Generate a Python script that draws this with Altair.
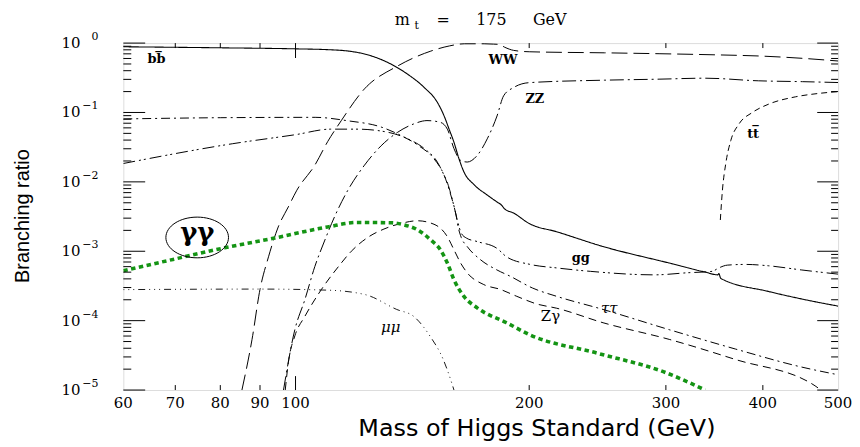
import altair as alt
import pandas as pd

# ---------------- data ----------------
bb_mass = [60, 80, 100, 110, 117, 123, 131.5, 139.5, 146.5, 152.3, 155.4, 157.7, 160, 162.4, 164.8,
           169.8, 176.6, 181.8, 184, 186, 191, 200, 217, 249, 303, 337, 350, 351, 353, 407, 450, 500]
bb_br = [0.885, 0.855, 0.826, 0.804, 0.767, 0.692, 0.525, 0.355, 0.229, 0.140, 0.0891, 0.0575, 0.0372,
         0.0215, 0.0139, 0.00912, 0.00646, 0.00513, 0.00468, 0.00407, 0.00355, 0.00251, 0.00191, 0.00117,
         0.000676, 0.000501, 0.000457, 0.000479, 0.000407, 0.000263, 0.000204, 0.000162]

ww_mass = [85.3, 87.9, 90, 92.3, 95, 97.9, 100.4, 105.9, 110, 114.5, 122.7, 135.4, 149.4, 158, 165,
           175, 180, 183, 186, 191, 200, 250, 294, 350, 395, 450, 500]
ww_br = [1.0e-5, 5.37e-5, 2.82e-4, 8.32e-4, 2.24e-3, 4.37e-3, 7.59e-3, 0.0174, 0.038, 0.0759, 0.219,
         0.468, 0.767, 0.912, 0.977, 0.977, 0.966, 0.955, 0.871, 0.785, 0.750, 0.724, 0.703, 0.676,
         0.652, 0.603, 0.552]

zz_mass = [96.5, 99.8, 102.8, 105.9, 109.1, 112.3, 116.8, 122.7, 128.9, 135.4, 142, 147.7, 153.5, 156.9,
           160, 163.2, 166.4, 171.4, 176.6, 181.8, 185.4, 191, 200, 250, 294, 337, 395, 450, 500]
zz_br = [1e-5, 7.41e-5, 2.0e-4, 6.03e-4, 1.45e-3, 3.16e-3, 7.59e-3, 0.0174, 0.0331, 0.0519, 0.0684,
         0.0764, 0.0724, 0.0575, 0.0302, 0.0204, 0.0193, 0.024, 0.0417, 0.0891, 0.174, 0.229, 0.269,
         0.292, 0.302, 0.312, 0.286, 0.278, 0.270]

tt_mass = [352.6, 354.8, 358.3, 363.7, 372.7, 387.7, 407, 440.5, 471.8, 500]
tt_br = [2.82e-3, 7.59e-3, 0.0183, 0.0394, 0.0684, 0.100, 0.132, 0.168, 0.188, 0.200]

gg_mass = [60, 83, 100, 111, 120, 131.5, 139.5, 146.5, 152.3, 155, 157, 160, 162, 163.5, 166, 171.4,
           181.8, 187, 200.6, 217, 240, 290, 320, 344, 351, 360, 380, 407, 449, 500]
gg_br = [0.0184, 0.0355, 0.0479, 0.0575, 0.0575, 0.0519, 0.0417, 0.0302, 0.0193, 0.0132, 0.00955,
         0.00447, 0.00251, 0.00182, 0.00155, 0.00138, 0.0011, 0.000832, 0.000646, 0.000575, 0.000513,
         0.000457, 0.00049, 0.000513, 0.000575, 0.000631, 0.000646, 0.000617, 0.000537, 0.000468]

tau_mass = [60, 80, 106, 116.8, 128.9, 136.6, 144, 150.8, 155.4, 158.5, 161, 162, 163.5, 166.4, 173,
            181.8, 189, 202, 217, 249, 303, 369, 449, 500]
tau_br = [0.0807, 0.0841, 0.0851, 0.0759, 0.0617, 0.0468, 0.0334, 0.0215, 0.01245, 0.00646, 0.00331,
          0.00224, 0.00158, 0.00117, 0.000759, 0.000537, 0.000437, 0.000295, 0.000224, 0.000145,
          7.41e-5, 3.89e-5, 2.14e-5, 1.66e-5]

zg_mass = [97, 97.9, 99.8, 102.8, 108, 113.6, 118, 124.3, 130, 136.6, 143.6, 150.8, 156.9, 160, 163.2,
           166.4, 174.8, 183.6, 192.8, 204.5, 217, 249, 303, 369, 467, 475]
zg_br = [1e-5, 2.51e-5, 6.03e-5, 1.15e-4, 2.82e-4, 6.03e-4, 1e-3, 1.62e-3, 2.09e-3, 2.51e-3, 2.75e-3,
         2.45e-3, 1.62e-3, 1.05e-3, 6.76e-4, 4.90e-4, 3.31e-4, 2.82e-4, 2.24e-4, 1.74e-4, 1.51e-4,
         9.33e-5, 5.37e-5, 2.75e-5, 1.15e-5, 1e-5]

gam_mass = [60, 70, 81, 94, 110, 120, 133, 138, 143.6, 149.4, 153.7, 156.9, 160, 164.8, 171.4, 187,
            200, 245, 300, 337]
gam_br = [5.25e-4, 7.76e-4, 1.12e-3, 1.55e-3, 2.24e-3, 2.6e-3, 2.57e-3, 2.4e-3, 2.04e-3, 1.45e-3,
          1.05e-3, 6.76e-4, 3.89e-4, 2.24e-4, 1.53e-4, 9.33e-5, 6.31e-5, 3.39e-5, 1.78e-5, 1e-5]

mu_mass = [60, 90, 110, 123, 135, 142, 149, 155, 159, 160]
mu_br = [2.8e-4, 2.85e-4, 2.75e-4, 2.37e-4, 1.45e-4, 1.15e-4, 6.0e-5, 2.75e-5, 1.25e-5, 1.0e-5]

# axis ticks / labels
x_tick_values = [60, 70, 80, 90, 100, 200, 300, 400, 500]
x_tick_text = ["60", "70", "80", "90", "100", "200", "300", "400", "500"]
x_short_ticks = [70, 80, 90, 200, 300, 400]
x_long_ticks = [100]
y_decades = [1, 0.1, 0.01, 0.001, 1e-4, 1e-5]
y_exponents = ["0", "\u22121", "\u22122", "\u22123", "\u22124", "\u22125"]
y_minor = [m * d for d in [0.1, 0.01, 0.001, 1e-4, 1e-5] for m in range(2, 10)]

# curve labels (text, mass, BR at label baseline)
bold_text = ["bb\u0305", "WW", "ZZ", "tt\u0305", "gg"]
bold_mass = [66.2, 185.1, 203.4, 388.6, 233]
bold_br = [0.512, 0.50, 0.138, 0.0435, 6.98e-4]
ital_text = ["\u03c4\u03c4", "\u03bc\u03bc"]
ital_mass = [253.7, 132.6]
ital_br = [1.31e-4, 6.78e-5]
plain_text = ["Z\u03b3"]
plain_mass = [213]
plain_br = [9.84e-5]
gg_label_mass = [74.7]
gg_label_br = [1.41e-3]
ellipse_mass = [74.7]
ellipse_br = [1.58e-3]

# ---------------- build ----------------
xs = alt.Scale(type="log", domain=[60, 500], nice=False)
ys = alt.Scale(type="log", domain=[1e-5, 1], nice=False)

W, H = 719, 349
SERIF = "DejaVu Serif"


def curve(ms, bs, dash, color="black", width=1.0):
    df = pd.DataFrame({"mass": ms, "br": bs, "idx": list(range(len(ms)))})
    return alt.Chart(df).mark_line(clip=True, interpolate="monotone", color=color,
                                   strokeDash=dash, strokeWidth=width).encode(
        x=alt.X("mass:Q", scale=xs, axis=None),
        y=alt.Y("br:Q", scale=ys, axis=None),
        order="idx:Q")


curves = [
    curve(bb_mass, bb_br, [1, 0], width=1.1),
    curve(ww_mass, ww_br, [16, 6]),
    curve(zz_mass, zz_br, [14, 4, 2, 4]),
    curve(tt_mass, tt_br, [6, 4]),
    curve(gg_mass, gg_br, [12, 4, 2, 3, 2, 4]),
    curve(tau_mass, tau_br, [9, 4, 2, 4]),
    curve(zg_mass, zg_br, [8, 5]),
    curve(mu_mass, mu_br, [1, 4, 1, 4, 1, 4, 7, 4], width=0.9),
    curve(gam_mass, gam_br, [4.5, 3.5], color="#149414", width=3.6),
]

major_df = pd.DataFrame({"v": y_decades, "e": y_exponents})
minor_df = pd.DataFrame({"v": y_minor})
xshort_df = pd.DataFrame({"v": x_short_ticks})
xlong_df = pd.DataFrame({"v": x_long_ticks})
xlab_df = pd.DataFrame({"v": x_tick_values, "t": x_tick_text})


def yrule(df, x1, x2):
    return alt.Chart(df).mark_rule(color="black", strokeWidth=1).encode(
        y=alt.Y("v:Q", scale=ys, axis=None), x=alt.value(x1), x2=alt.value(x2))


def xrule(df, y1, y2):
    return alt.Chart(df).mark_rule(color="black", strokeWidth=1).encode(
        x=alt.X("v:Q", scale=xs, axis=None), y=alt.value(y1), y2=alt.value(y2))


ticks = [
    yrule(major_df, 0, 22), yrule(major_df, W, W - 21),
    yrule(minor_df, 0, 8), yrule(minor_df, W, W - 7),
    xrule(xshort_df, H, H - 5), xrule(xshort_df, 0, 5),
    xrule(xlong_df, H, H - 14), xrule(xlong_df, 0, 15),
]

xlab = alt.Chart(xlab_df).mark_text(align="center", baseline="middle", font=SERIF, fontSize=15,
                                    color="black").encode(
    x=alt.X("v:Q", scale=xs, axis=None), y=alt.value(H + 13), text="t:N")
ylab10 = alt.Chart(major_df).mark_text(align="right", baseline="middle", font=SERIF, fontSize=15,
                                       color="black").encode(
    y=alt.Y("v:Q", scale=ys, axis=None), x=alt.value(-43), text=alt.value("10"))
ylabexp = alt.Chart(major_df).mark_text(align="right", baseline="middle", font=SERIF, fontSize=11,
                                        dy=-6, color="black").encode(
    y=alt.Y("v:Q", scale=ys, axis=None), x=alt.value(-25), text="e:N")


def label_layer(texts, ms, bs, **kw):
    df = pd.DataFrame({"t": texts, "m": ms, "b": bs})
    return alt.Chart(df).mark_text(align="center", baseline="alphabetic", color="black", **kw).encode(
        x=alt.X("m:Q", scale=xs, axis=None), y=alt.Y("b:Q", scale=ys, axis=None), text="t:N")


labels = [
    label_layer(bold_text, bold_mass, bold_br, font=SERIF, fontSize=13, fontWeight="bold"),
    label_layer(ital_text, ital_mass, ital_br, font=SERIF, fontSize=15, fontStyle="italic"),
    label_layer(plain_text, plain_mass, plain_br, font=SERIF, fontSize=15),
    label_layer(["\u03b3\u03b3"], gg_label_mass, gg_label_br, font=SERIF, fontSize=26, fontWeight="bold"),
]

ell = alt.Chart(pd.DataFrame({"m": ellipse_mass, "b": ellipse_br})).mark_point(
    shape="M -1 0 A 1 0.65 0 1 1 1 0 A 1 0.65 0 1 1 -1 0", size=63 * 63, filled=False,
    color="black", strokeWidth=1, opacity=1).encode(
    x=alt.X("m:Q", scale=xs, axis=None), y=alt.Y("b:Q", scale=ys, axis=None))

one = pd.DataFrame({"k": [0]})


def free_text(txt, x, y, **kw):
    return alt.Chart(one).mark_text(color="black", **kw).encode(
        x=alt.value(x), y=alt.value(y), text=alt.value(txt))


texts = [
    free_text("m", 273, -18, align="left", baseline="alphabetic", font=SERIF, fontSize=16),
    free_text("t", 293, -14, align="left", baseline="alphabetic", font=SERIF, fontSize=11),
    free_text("=", 315, -18, align="left", baseline="alphabetic", font=SERIF, fontSize=16),
    free_text("175", 355, -18, align="left", baseline="alphabetic", font=SERIF, fontSize=16),
    free_text("GeV", 412, -18, align="left", baseline="alphabetic", font=SERIF, fontSize=16),
    free_text("Mass of Higgs Standard (GeV)", 416, 395, align="center", baseline="alphabetic",
              font="DejaVu Sans", fontSize=24),
    free_text("Branching ratio", -101, 174, align="center", baseline="middle", angle=270,
              font="Liberation Sans", fontSize=20),
]

chart = alt.layer(*curves, *ticks, xlab, ylab10, ylabexp, *labels, ell, *texts).properties(
    width=W, height=H,
    autosize=alt.AutoSizeParams(type="none"),
    padding={"left": 116, "top": 34, "right": 14, "bottom": 55},
).configure_view(stroke="black", strokeWidth=1.5).configure(background="white")

chart.save("out.html", embed_options={"renderer": "svg", "actions": False})
